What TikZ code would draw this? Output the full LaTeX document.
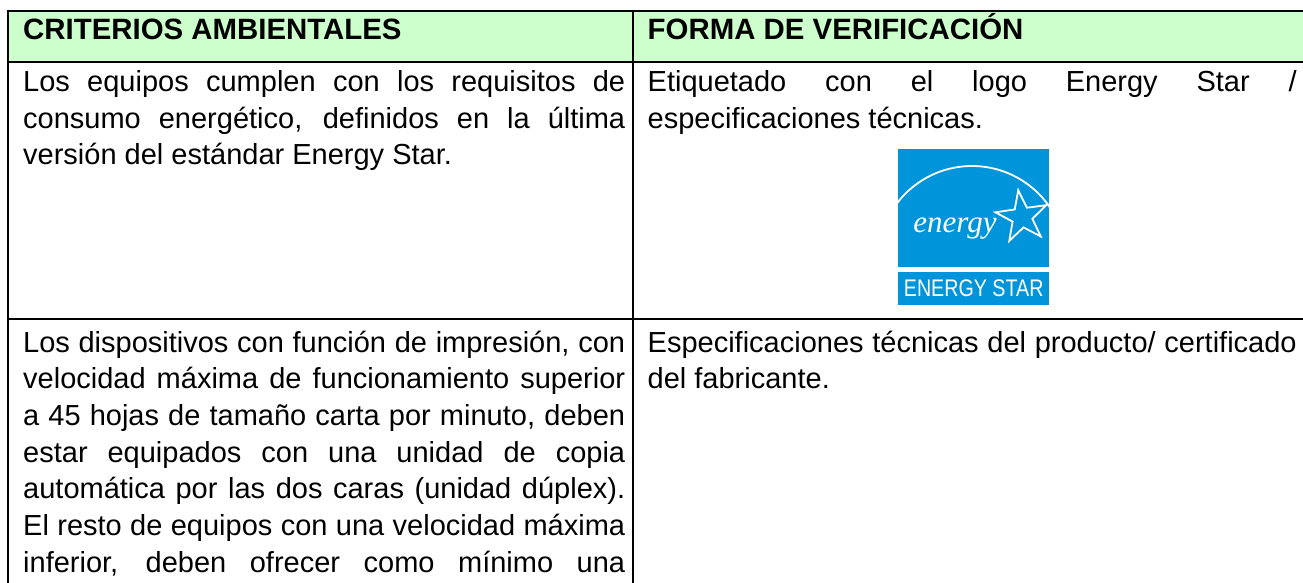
\documentclass[tikz,border=0pt]{standalone}
\usepackage{fontspec}
\setmainfont{Liberation Sans}
\newfontfamily\narrowfont[FakeStretch=0.82]{Liberation Sans}
\newfontfamily\logoscript{Liberation Serif}
\usepackage{tikz}
\usetikzlibrary{positioning}
\definecolor{headgreen}{HTML}{CCFFCC}
\definecolor{starblue}{HTML}{0094DA}

\begin{document}
\begin{tikzpicture}[x=1pt,y=-1pt,
	cell/.style={draw,line width=1.6pt,rectangle,outer sep=0pt,inner sep=0pt,anchor=north west},
	celltext/.style={anchor=base west,inner sep=0pt,align=justify,font=\fontsize{29}{36.7}\selectfont}]
	
	\useasboundingbox (0,0) rectangle (1303,583);
	\clip (0,0) rectangle (1303,583);
	
	% header cells
	\node[cell,fill=headgreen,minimum width=625,minimum height=51] (hcrit) at (8,11) {};
	\node[cell,fill=headgreen,minimum width=680,minimum height=51] (hform) [right=0pt of hcrit] {};
	
	% first row cells
	\node[cell,minimum width=625,minimum height=257] (rowacrit) [below=0pt of hcrit] {};
	\node[cell,minimum width=680,minimum height=257] (rowaform) [below=0pt of hform] {};
	
	% second row cells
	\node[cell,minimum width=625,minimum height=400] (rowbcrit) [below=0pt of rowacrit] {};
	\node[cell,minimum width=680,minimum height=400] (rowbform) [below=0pt of rowaform] {};
	
	% header texts
	\node[celltext,font=\bfseries\fontsize{29.4}{36.7}\selectfont] (tcrit) at (23,40) {CRITERIOS AMBIENTALES};
	\node[celltext,font=\bfseries\fontsize{29.4}{36.7}\selectfont] (tform) at (647.5,40) {FORMA DE VERIFICACIÓN};
	
	% first row texts
	\node[celltext,text width=602] (tacrit) at (23,91.5) {Los equipos cumplen con los requisitos de\linebreak consumo energético, definidos en la última\linebreak versión del estándar Energy Star.};
	\node[celltext,text width=649] (taform) at (647.5,91.5) {Etiquetado con el logo Energy Star /\linebreak especificaciones técnicas.};
	
	% second row texts
	\node[celltext,text width=602] (tbcrit) at (23,352) {Los dispositivos con función de impresión, con\linebreak velocidad máxima de funcionamiento superior\linebreak a 45 hojas de tamaño carta por minuto, deben\linebreak estar equipados con una unidad de copia\linebreak automática por las dos caras (unidad dúplex).\linebreak El resto de equipos con una velocidad máxima\linebreak \makebox[\linewidth][s]{inferior, deben ofrecer como mínimo una}};
	\node[celltext,text width=649] (tbform) at (647.5,352) {Especificaciones técnicas del producto/ certificado\linebreak del fabricante.};
	
	% energy star logo
	\node[fill=starblue,minimum width=151,minimum height=118,inner sep=0pt,anchor=north west] (logo) at (898,149) {};
	\node[fill=starblue,minimum width=151,minimum height=33,inner sep=0pt,text=white,font=\narrowfont\fontsize{24}{24}\selectfont] (logoband) [below=4pt of logo] {ENERGY STAR};
	\begin{scope}
		\clip (logo.north west) rectangle (logo.south east);
		\draw[white,line width=1.8pt] (972,260) circle[radius=94];
	\end{scope}
	\node[text=white,font=\logoscript\itshape\fontsize{31}{31}\selectfont,inner sep=0pt,anchor=base] (logoword) at (955,232) {energy};
	\draw[white,line width=1.8pt,line join=miter] (1022,217) +(-98:27) -- +(-62:10.5) -- +(-26:27) -- +(10:10.5) -- +(46:27) -- +(82:10.5) -- +(118:27) -- +(154:10.5) -- +(190:27) -- +(226:10.5) -- cycle;
	
\end{tikzpicture}
\end{document}
